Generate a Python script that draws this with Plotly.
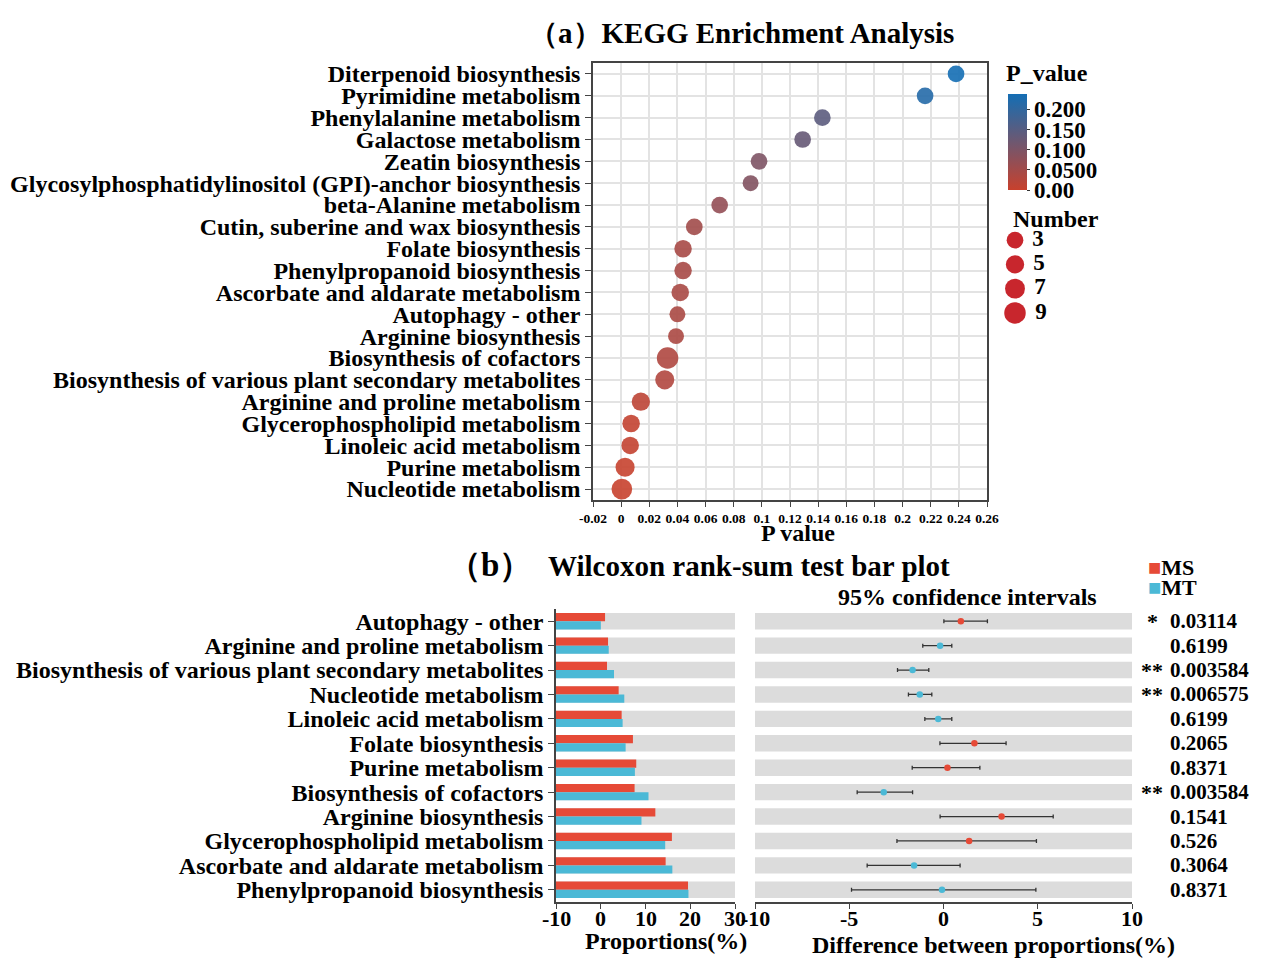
import plotly.graph_objects as go

W, H = 1261, 958
OX, OY = 8, 8  # page body margin compensation
FONT = "Liberation Serif"

# ---------------- Panel (a) data ----------------
kegg_terms = [
    "Diterpenoid biosynthesis",
    "Pyrimidine metabolism",
    "Phenylalanine metabolism",
    "Galactose metabolism",
    "Zeatin biosynthesis",
    "Glycosylphosphatidylinositol (GPI)-anchor biosynthesis",
    "beta-Alanine metabolism",
    "Cutin, suberine and wax biosynthesis",
    "Folate biosynthesis",
    "Phenylpropanoid biosynthesis",
    "Ascorbate and aldarate metabolism",
    "Autophagy - other",
    "Arginine biosynthesis",
    "Biosynthesis of cofactors",
    "Biosynthesis of various plant secondary metabolites",
    "Arginine and proline metabolism",
    "Glycerophospholipid metabolism",
    "Linoleic acid metabolism",
    "Purine metabolism",
    "Nucleotide metabolism",
]
kegg_p = [0.238, 0.216, 0.143, 0.129, 0.098, 0.092, 0.070, 0.052, 0.044, 0.044,
          0.042, 0.040, 0.039, 0.033, 0.031, 0.014, 0.0071, 0.0064, 0.0028, 0.0005]
kegg_num = [3, 3, 3, 3, 3, 2, 3, 3, 4, 4, 4, 2, 2, 9, 6, 5, 4, 4, 6, 8]

x_ticks_a = [-0.02, 0, 0.02, 0.04, 0.06, 0.08, 0.1, 0.12, 0.14, 0.16, 0.18, 0.2, 0.22, 0.24, 0.26]
x_ticktext_a = ["-0.02", "0", "0.02", "0.04", "0.06", "0.08", "0.1", "0.12", "0.14",
                "0.16", "0.18", "0.2", "0.22", "0.24", "0.26"]
cbar_vals = [0, 0.05, 0.1, 0.15, 0.2]
cbar_text = ["0.00", "0.0500", "0.100", "0.150", "0.200"]
legend_nums = [3, 5, 7, 9]

# ---------------- Panel (b) data ----------------
wil_terms = [
    "Autophagy - other",
    "Arginine and proline metabolism",
    "Biosynthesis of various plant secondary metabolites",
    "Nucleotide metabolism",
    "Linoleic acid metabolism",
    "Folate biosynthesis",
    "Purine metabolism",
    "Biosynthesis of cofactors",
    "Arginine biosynthesis",
    "Glycerophospholipid metabolism",
    "Ascorbate and aldarate metabolism",
    "Phenylpropanoid biosynthesis",
]
ms_prop = [0.96, 1.63, 1.40, 4.00, 4.67, 7.19, 7.93, 7.56, 12.2, 15.9, 14.5, 19.5]
mt_prop = [0.02, 1.78, 2.96, 5.26, 4.89, 5.56, 7.63, 10.67, 9.1, 14.4, 16.0, 19.6]
diff = [0.92, -0.18, -1.64, -1.26, -0.28, 1.64, 0.21, -3.17, 3.08, 1.36, -1.56, -0.08]
ci_low = [0.02, -1.10, -2.44, -1.86, -0.99, -0.19, -1.66, -4.58, -0.18, -2.47, -4.05, -4.88]
ci_high = [2.33, 0.44, -0.78, -0.62, 0.44, 3.32, 1.93, -1.64, 5.82, 4.93, 0.88, 4.90]
p_text = ["0.03114", "0.6199", "0.003584", "0.006575", "0.6199", "0.2065",
          "0.8371", "0.003584", "0.1541", "0.526", "0.3064", "0.8371"]
stars = ["*", "", "**", "**", "", "", "", "**", "", "", "", ""]
prop_ticks = [-10, 0, 10, 20, 30]
prop_ticktext = ["-10", "0", "10", "20", "30"]
diff_ticks = [-10, -5, 0, 5, 10]
diff_ticktext = ["-10", "-5", "0", "5", "10"]

RED = "#E64A37"
BLUE = "#4BB9D6"
BAND = "#DCDCDC"


def fx(p):
    return (p - OX) / W


def fy(p):
    return 1 - (p - OY) / H


def dsize(n):
    return 14.3 + 0.8 * n


fig = go.Figure()

# Panel a scatter
fig.add_trace(go.Scatter(
    x=kegg_p, y=kegg_terms, mode="markers", xaxis="x", yaxis="y",
    marker=dict(size=[dsize(n) for n in kegg_num], color=kegg_p,
                cmin=0, cmax=max(kegg_p),
                colorscale=[[0, "rgb(200,65,45)"], [1, "rgb(20,110,180)"]],
                opacity=0.9, line=dict(width=0),
                colorbar=dict(x=fx(1008), xanchor="left", y=fy(142), yanchor="middle",
                              len=96, lenmode="pixels", thickness=19, thicknessmode="pixels",
                              xpad=0, ypad=0,
                              tickvals=cbar_vals, ticktext=cbar_text, ticks="outside",
                              ticklen=3, tickcolor="#333", outlinewidth=0,
                              tickfont=dict(family=FONT, size=23, color="black", weight="bold"))),
    showlegend=False, hoverinfo="skip"))

# Number size legend
fig.add_trace(go.Scatter(
    x=[0.15] * 4, y=legend_nums, mode="markers+text", xaxis="x4", yaxis="y4",
    text=[" " + str(n) for n in legend_nums], textposition="middle right",
    textfont=dict(family=FONT, size=23, color="black", weight="bold"),
    marker=dict(size=[dsize(n) for n in legend_nums], color="rgb(200,38,45)", opacity=1,
                line=dict(width=0)),
    showlegend=False, hoverinfo="skip", cliponaxis=False))

# Panel b left bars
fig.add_trace(go.Bar(y=wil_terms, x=[40] * len(wil_terms), base=-10, orientation="h",
                     xaxis="x2", yaxis="y2", width=0.67, offset=-0.335,
                     marker=dict(color=BAND, line=dict(width=0)), showlegend=False, hoverinfo="skip"))
fig.add_trace(go.Bar(y=wil_terms, x=[v + 10 for v in ms_prop], base=-10, orientation="h",
                     xaxis="x2", yaxis="y2", width=0.335, offset=-0.335, name="MS",
                     marker=dict(color=RED, line=dict(width=0)), showlegend=False, hoverinfo="skip"))
fig.add_trace(go.Bar(y=wil_terms, x=[v + 10 for v in mt_prop], base=-10, orientation="h",
                     xaxis="x2", yaxis="y2", width=0.335, offset=0, name="MT",
                     marker=dict(color=BLUE, line=dict(width=0)), showlegend=False, hoverinfo="skip"))

# Panel b right: bands + CI
fig.add_trace(go.Bar(y=wil_terms, x=[20] * len(wil_terms), base=-10, orientation="h",
                     xaxis="x3", yaxis="y3", width=0.67, offset=-0.335,
                     marker=dict(color=BAND, line=dict(width=0)), showlegend=False, hoverinfo="skip"))
fig.add_trace(go.Scatter(
    x=diff, y=wil_terms, mode="markers", xaxis="x3", yaxis="y3",
    marker=dict(size=6.5, color=[RED if d > 0 else BLUE for d in diff]),
    error_x=dict(type="data", symmetric=False,
                 array=[h - d for h, d in zip(ci_high, diff)],
                 arrayminus=[d - l for d, l in zip(diff, ci_low)],
                 color="#333", thickness=1.3, width=2),
    showlegend=False, hoverinfo="skip"))

catfont = dict(family=FONT, size=24, color="black", weight="bold")

layout = dict(
    width=W, height=H,
    margin=dict(l=0, r=0, t=0, b=0, pad=0, autoexpand=False),
    paper_bgcolor="white", plot_bgcolor="white",
    font=dict(family=FONT, color="black", weight="bold"),
    barmode="overlay",
    showlegend=False,
    xaxis=dict(domain=[fx(593), fx(987)], range=[-0.02, 0.26], tickmode="array",
               tickvals=x_ticks_a, ticktext=x_ticktext_a, showgrid=True, gridcolor="#E3E3E3",
               gridwidth=1.5, showline=True, mirror=True, linecolor="#444", linewidth=1.5,
               ticks="outside", ticklen=5, tickcolor="#444", zeroline=False, automargin=False,
               tickfont=dict(family=FONT, size=13.5, color="black", weight="bold"), anchor="y"),
    yaxis=dict(domain=[fy(500), fy(63)], type="category", categoryarray=kegg_terms,
               tickmode="array", tickvals=kegg_terms, ticktext=kegg_terms,
               range=[len(kegg_terms) - 0.5, -0.5], showgrid=True, gridcolor="#E3E3E3",
               gridwidth=1.5, showline=True, mirror=True, linecolor="#444", linewidth=1.5,
               ticks="outside", ticklen=6, tickcolor="#444", tickfont=catfont, anchor="x",
               automargin=False),
    xaxis2=dict(domain=[fx(556), fx(735)], range=[-10, 30], tickmode="array",
                tickvals=prop_ticks, showticklabels=False,
                showgrid=False, zeroline=False, showline=True, linecolor="#444", linewidth=1.5,
                ticks="outside", ticklen=5, tickcolor="#444", anchor="y2", automargin=False),
    yaxis2=dict(domain=[fy(902), fy(609)], type="category", categoryarray=wil_terms,
                tickmode="array", tickvals=wil_terms, ticktext=wil_terms,
                range=[len(wil_terms) - 0.5, -0.5], showgrid=False, showline=True,
                linecolor="#444", linewidth=1.5, ticks="outside", ticklen=6, tickcolor="#444",
                tickfont=catfont, anchor="x2", automargin=False),
    xaxis3=dict(domain=[fx(755), fx(1132)], range=[-10, 10], tickmode="array",
                tickvals=diff_ticks, showticklabels=False,
                showgrid=False, zeroline=False, showline=True, linecolor="#444", linewidth=1.5,
                ticks="outside", ticklen=5, tickcolor="#444", anchor="y3", automargin=False),
    yaxis3=dict(domain=[fy(902), fy(609)], type="category", categoryarray=wil_terms,
                range=[len(wil_terms) - 0.5, -0.5], showgrid=False, showline=False,
                showticklabels=False, ticks="", anchor="x3", automargin=False),
    xaxis4=dict(domain=[fx(1000), fx(1100)], range=[0, 1], visible=False, anchor="y4",
                automargin=False),
    yaxis4=dict(domain=[fy(325), fy(228)], range=[10, 2], visible=False, anchor="x4",
                automargin=False),
)

ann = []


def add_text(txt, x, y, size, xanchor="center", color="black"):
    ann.append(dict(text=txt, x=fx(x), y=fy(y), xref="paper", yref="paper", showarrow=False,
                    xanchor=xanchor, yanchor="middle",
                    font=dict(family=FONT, size=size, color=color, weight="bold")))


add_text("（a）KEGG Enrichment Analysis", 741, 33, 29)
add_text("P value", 798, 533, 24)
add_text("P_value", 1004, 73, 24, xanchor="left")
add_text("Number", 1011, 219, 24, xanchor="left")
add_text("（b）", 490, 565, 33)
add_text("Wilcoxon rank-sum test bar plot", 749, 566, 29)
add_text("95% confidence intervals", 967, 597, 24)
add_text("Proportions(%)", 666, 941, 24)
add_text("Difference between proportions(%)", 993, 945, 24)
add_text("<span style='color:%s'>■</span>MS" % RED, 1146, 567, 22, xanchor="left")
add_text("<span style='color:%s'>■</span>MT" % BLUE, 1146, 587, 22, xanchor="left")

# bottom tick labels of panel b (placed on the axes' own scales)
for axref, vals, txts in (("x2", prop_ticks, prop_ticktext), ("x3", diff_ticks, diff_ticktext)):
    for v, t in zip(vals, txts):
        ann.append(dict(text=t, x=v, y=fy(918), xref=axref, yref="paper", showarrow=False,
                        xanchor="center", yanchor="middle",
                        font=dict(family=FONT, size=22, color="black", weight="bold")))

for i, (pt, st) in enumerate(zip(p_text, stars)):
    ann.append(dict(text=pt, x=fx(1168), y=i, xref="paper", yref="y3", showarrow=False,
                    xanchor="left", yanchor="middle",
                    font=dict(family=FONT, size=21, color="black", weight="bold")))
    if st:
        ann.append(dict(text=st, x=fx(1152), y=i, xref="paper", yref="y3", showarrow=False,
                        xanchor="center", yanchor="middle",
                        font=dict(family=FONT, size=22, color="black", weight="bold")))

layout["annotations"] = ann
fig.update_layout(**layout)
fig.write_html("out.html")
